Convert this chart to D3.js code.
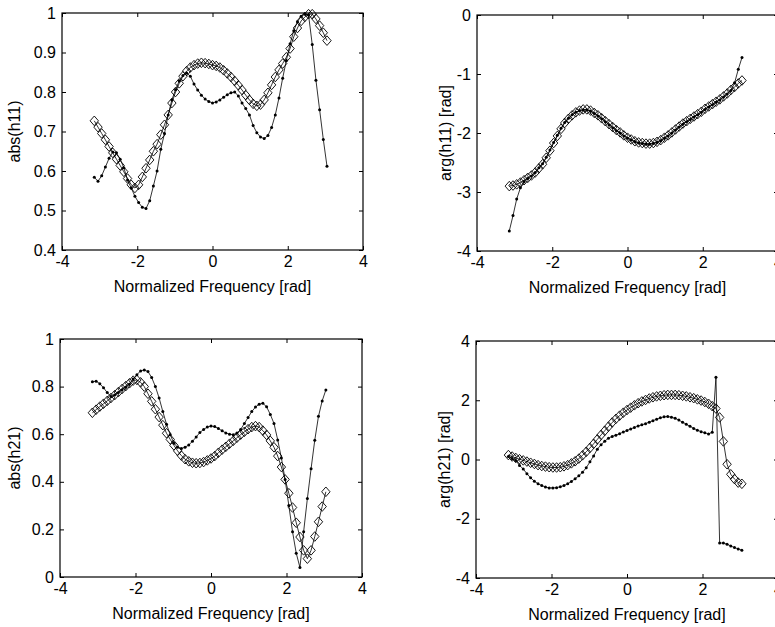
<!DOCTYPE html>
<html>
<head>
<meta charset="utf-8">
<script src="https://cdn.jsdelivr.net/npm/d3@7/dist/d3.min.js"></script>
<style>
  html, body { margin: 0; padding: 0; background: #fff; }
  svg { display: block; }
  text { font-family: "Liberation Sans", Arial, Helvetica, sans-serif; fill: #000; }
</style>
</head>
<body>
<svg id="chart" width="775" height="627"></svg>
<script>
// ---------- data ----------
const freq = [-3.142,-3.043,-2.945,-2.847,-2.749,-2.651,-2.553,-2.454,-2.356,-2.258,-2.160,-2.062,-1.963,-1.865,-1.767,-1.669,
  -1.571,-1.473,-1.374,-1.276,-1.178,-1.080,-0.982,-0.884,-0.785,-0.687,-0.589,-0.491,-0.393,-0.295,-0.196,-0.098,
  0,0.098,0.196,0.295,0.393,0.491,0.589,0.687,0.785,0.884,0.982,1.080,1.178,1.276,1.374,1.473,
  1.571,1.669,1.767,1.865,1.963,2.062,2.160,2.258,2.356,2.454,2.553,2.651,2.749,2.847,2.945,3.043];

const xTicks = [-4, -2, 0, 2, 4];

// abs(h11)
const absH11Measured = [0.584,0.574,0.588,0.610,0.632,0.648,0.646,0.630,0.608,0.577,0.557,0.536,0.520,0.508,0.505,0.525,
  0.562,0.600,0.655,0.695,0.742,0.780,0.806,0.828,0.842,0.848,0.840,0.820,0.805,0.792,0.782,0.776,
  0.772,0.775,0.780,0.787,0.793,0.798,0.800,0.790,0.772,0.758,0.742,0.715,0.697,0.686,0.682,0.690,
  0.710,0.742,0.785,0.835,0.880,0.922,0.955,0.978,0.992,0.997,0.995,0.920,0.830,0.755,0.680,0.612];
const absH11Model = [0.727,0.711,0.695,0.679,0.662,0.646,0.630,0.614,0.598,0.581,0.565,0.557,0.565,0.585,0.607,0.628,
  0.650,0.668,0.692,0.717,0.742,0.772,0.800,0.822,0.840,0.853,0.862,0.868,0.872,0.874,0.873,0.871,
  0.868,0.866,0.862,0.855,0.847,0.838,0.828,0.817,0.805,0.792,0.780,0.770,0.765,0.768,0.780,0.798,
  0.818,0.838,0.856,0.872,0.888,0.910,0.940,0.962,0.980,0.990,0.997,0.997,0.985,0.968,0.950,0.930];
const absH11Ticks = [0.4, 0.5, 0.6, 0.7, 0.8, 0.9, 1];

// arg(h11)
const argH11Measured = [-3.66,-3.40,-3.12,-2.93,-2.82,-2.77,-2.73,-2.67,-2.59,-2.52,-2.41,-2.29,-2.16,-2.04,-1.92,-1.82,
  -1.75,-1.69,-1.65,-1.62,-1.61,-1.61,-1.63,-1.67,-1.71,-1.76,-1.81,-1.86,-1.91,-1.96,-2.00,-2.05,
  -2.09,-2.12,-2.15,-2.17,-2.18,-2.19,-2.19,-2.18,-2.16,-2.13,-2.09,-2.05,-2.00,-1.95,-1.90,-1.85,
  -1.81,-1.77,-1.73,-1.69,-1.65,-1.60,-1.56,-1.52,-1.48,-1.44,-1.39,-1.34,-1.28,-1.15,-0.92,-0.72];
const argH11Model = [-2.90,-2.89,-2.87,-2.84,-2.80,-2.76,-2.72,-2.67,-2.60,-2.53,-2.42,-2.30,-2.17,-2.05,-1.93,-1.83,
  -1.76,-1.70,-1.65,-1.62,-1.60,-1.60,-1.62,-1.66,-1.70,-1.75,-1.80,-1.85,-1.90,-1.95,-1.99,-2.04,
  -2.08,-2.11,-2.14,-2.16,-2.17,-2.18,-2.18,-2.17,-2.15,-2.12,-2.08,-2.04,-1.99,-1.94,-1.89,-1.84,
  -1.80,-1.76,-1.72,-1.68,-1.64,-1.59,-1.55,-1.51,-1.47,-1.43,-1.38,-1.33,-1.27,-1.22,-1.16,-1.11];
const argH11Ticks = [-4, -3, -2, -1, 0];

// abs(h21)
const absH21Measured = [0.820,0.823,0.812,0.795,0.775,0.758,0.765,0.775,0.787,0.797,0.810,0.832,0.850,0.866,0.870,0.863,
  0.838,0.800,0.752,0.695,0.642,0.598,0.562,0.545,0.540,0.545,0.555,0.570,0.588,0.607,0.620,0.630,
  0.634,0.632,0.624,0.614,0.605,0.600,0.598,0.605,0.620,0.645,0.670,0.695,0.714,0.726,0.730,0.715,
  0.683,0.645,0.576,0.500,0.410,0.300,0.190,0.100,0.040,0.190,0.330,0.455,0.575,0.675,0.740,0.786];
const absH21Model = [0.690,0.703,0.716,0.728,0.740,0.752,0.764,0.777,0.790,0.802,0.814,0.825,0.828,0.818,0.800,0.770,
  0.738,0.705,0.672,0.638,0.604,0.578,0.553,0.530,0.510,0.495,0.486,0.480,0.478,0.479,0.483,0.490,
  0.498,0.508,0.522,0.535,0.547,0.560,0.572,0.585,0.598,0.610,0.621,0.630,0.634,0.630,0.615,0.597,
  0.572,0.545,0.508,0.462,0.410,0.352,0.292,0.228,0.168,0.112,0.077,0.112,0.170,0.232,0.296,0.358];
const absH21Ticks = [0, 0.2, 0.4, 0.6, 0.8, 1];

// arg(h21)
const argH21Measured = [0.10,0.03,-0.03,-0.20,-0.32,-0.48,-0.62,-0.73,-0.82,-0.88,-0.93,-0.96,-0.96,-0.95,-0.92,-0.88,
  -0.82,-0.74,-0.65,-0.55,-0.43,-0.28,-0.08,0.12,0.35,0.50,0.62,0.72,0.78,0.82,0.87,0.93,
  0.98,1.03,1.08,1.13,1.17,1.21,1.26,1.31,1.36,1.41,1.44,1.45,1.43,1.39,1.33,1.26,
  1.19,1.12,1.05,0.99,0.94,0.90,0.86,0.92,2.78,-2.82,-2.82,-2.86,-2.92,-2.97,-3.02,-3.06];
const argH21Model = [0.15,0.10,0.05,0.01,-0.03,-0.07,-0.11,-0.15,-0.19,-0.22,-0.24,-0.26,-0.27,-0.27,-0.26,-0.23,
  -0.19,-0.13,-0.06,0.03,0.14,0.26,0.39,0.53,0.68,0.83,0.97,1.11,1.25,1.37,1.48,1.58,
  1.67,1.75,1.83,1.90,1.96,2.01,2.06,2.10,2.13,2.15,2.17,2.18,2.18,2.18,2.17,2.15,
  2.13,2.10,2.07,2.03,1.99,1.94,1.88,1.80,1.72,1.42,0.61,-0.16,-0.50,-0.66,-0.78,-0.82];
const argH21Ticks = [-4, -2, 0, 2, 4];

const xLabel = "Normalized Frequency [rad]";

// ---------- drawing ----------
const svg = d3.select("#chart");
const FONT = 16;

function panel(cfg) {
  const { left, right, top, bottom } = cfg.box;
  const x = d3.scaleLinear().domain([-4, 4]).range([left, right]);
  const y = d3.scaleLinear().domain(cfg.yDomain).range([bottom, top]);
  const g = svg.append("g");

  const fmt = d => String(d);

  // bottom axis with labels
  const ax = g.append("g").attr("transform", `translate(0,${bottom})`)
    .call(d3.axisBottom(x).tickValues(xTicks).tickFormat(fmt).tickSizeInner(-4).tickSizeOuter(0).tickPadding(6));
  // left axis with labels
  const ay = g.append("g").attr("transform", `translate(${left},0)`)
    .call(d3.axisLeft(y).tickValues(cfg.yTicks).tickFormat(fmt).tickSizeInner(-4).tickSizeOuter(0).tickPadding(6));
  // top & right axes (ticks only)
  const at = g.append("g").attr("transform", `translate(0,${top})`)
    .call(d3.axisTop(x).tickValues(xTicks).tickFormat("").tickSizeInner(-4).tickSizeOuter(0));
  const ar = g.append("g").attr("transform", `translate(${right},0)`)
    .call(d3.axisRight(y).tickValues(cfg.yTicks).tickFormat("").tickSizeInner(-4).tickSizeOuter(0));

  [ax, ay, at, ar].forEach(a => {
    a.select(".domain").remove();
    a.selectAll("line").attr("stroke", "#000").attr("stroke-width", 1);
    a.selectAll("text").attr("font-size", FONT).attr("font-family", "Liberation Sans, Arial, sans-serif").attr("fill", "#000");
  });

  // box
  g.append("rect")
    .attr("x", left).attr("y", top)
    .attr("width", right - left).attr("height", bottom - top)
    .attr("fill", "none").attr("stroke", "#000").attr("stroke-width", 1.2);

  const model = freq.map((f, i) => [f, cfg.model[i]]);
  const meas = freq.map((f, i) => [f, cfg.measured[i]]);
  const line = d3.line().x(d => x(d[0])).y(d => y(d[1]));

  // model: line with open diamonds
  g.append("path").attr("d", line(model)).attr("fill", "none").attr("stroke", "#000").attr("stroke-width", 0.8);
  g.append("g").selectAll("path").data(model).join("path")
    .attr("transform", d => `translate(${x(d[0])},${y(d[1])})`)
    .attr("d", "M0,-4.8L4.2,0L0,4.8L-4.2,0Z")
    .attr("fill", "none").attr("stroke", "#000").attr("stroke-width", 0.9);

  // measured: line with small dots
  g.append("path").attr("d", line(meas)).attr("fill", "none").attr("stroke", "#000").attr("stroke-width", 0.8);
  g.append("g").selectAll("circle").data(meas).join("circle")
    .attr("cx", d => x(d[0])).attr("cy", d => y(d[1])).attr("r", 1.5).attr("fill", "#000");

  // x label
  g.append("text").attr("x", (left + right) / 2).attr("y", bottom + 42)
    .attr("text-anchor", "middle").attr("font-size", FONT).text(xLabel);
  // y label
  g.append("text")
    .attr("transform", `translate(${cfg.yLabelX},${(top + bottom) / 2}) rotate(-90)`)
    .attr("text-anchor", "middle").attr("font-size", FONT).text(cfg.yLabel);
}

panel({ box: { left: 62, right: 363, top: 13, bottom: 250 }, yDomain: [0.4, 1], yTicks: absH11Ticks,
  yLabel: "abs(h11)", yLabelX: 20, measured: absH11Measured, model: absH11Model });
panel({ box: { left: 477, right: 778, top: 15, bottom: 251 }, yDomain: [-4, 0], yTicks: argH11Ticks,
  yLabel: "arg(h11) [rad]", yLabelX: 451, measured: argH11Measured, model: argH11Model });
panel({ box: { left: 60, right: 362, top: 339, bottom: 577 }, yDomain: [0, 1], yTicks: absH21Ticks,
  yLabel: "abs(h21)", yLabelX: 20, measured: absH21Measured, model: absH21Model });
panel({ box: { left: 476, right: 778, top: 341, bottom: 578 }, yDomain: [-4, 4], yTicks: argH21Ticks,
  yLabel: "arg(h21) [rad]", yLabelX: 450, measured: argH21Measured, model: argH21Model });
</script>
</body>
</html>
